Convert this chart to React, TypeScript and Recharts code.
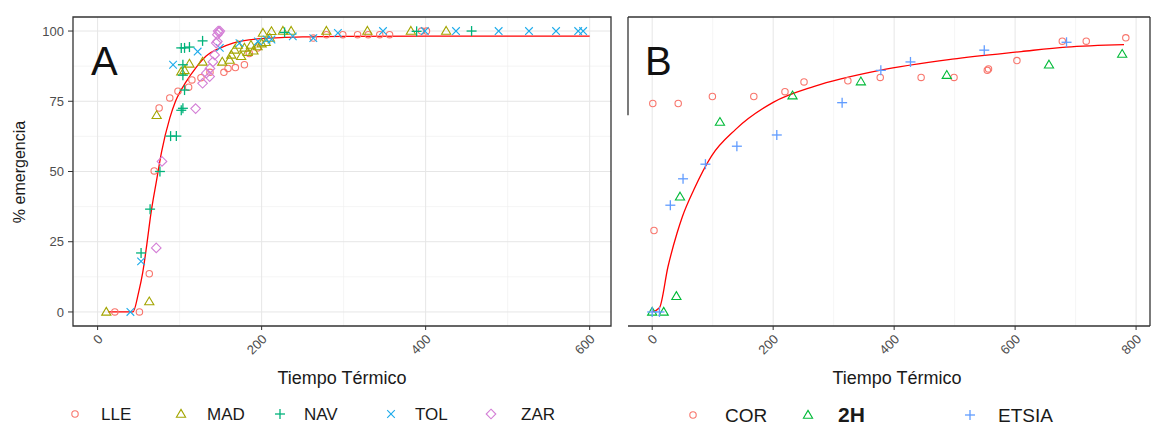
import React from "react";
import {
  CartesianGrid,
  ComposedChart,
  Line,
  ReferenceArea,
  ReferenceLine,
  Scatter,
  XAxis,
  YAxis,
} from "recharts";

type Pt = { x: number; y: number };

// Panel A: emergence by site
const LLE: Pt[] = [
  { x: 21, y: 0 }, { x: 51, y: 0 }, { x: 63, y: 13.6 }, { x: 69, y: 50.2 },
  { x: 75, y: 72.6 }, { x: 88, y: 76.2 }, { x: 98, y: 78.6 }, { x: 111, y: 80 },
  { x: 115, y: 82.6 }, { x: 126, y: 83.4 }, { x: 137, y: 85.3 }, { x: 154, y: 85.3 },
  { x: 159, y: 86.7 }, { x: 168, y: 87 }, { x: 179, y: 88 }, { x: 185, y: 92 },
  { x: 195, y: 94 }, { x: 263, y: 97.5 }, { x: 279, y: 98.7 }, { x: 299, y: 98.7 },
  { x: 317, y: 98.7 }, { x: 330, y: 98.7 }, { x: 344, y: 98.7 }, { x: 356, y: 98.7 },
  { x: 395, y: 100 }, { x: 401, y: 100 },
];
const MAD: Pt[] = [
  { x: 10.6, y: 0 }, { x: 63, y: 3.7 }, { x: 72, y: 70 }, { x: 102, y: 85.5 },
  { x: 106, y: 86 }, { x: 112, y: 88.3 }, { x: 128, y: 89 }, { x: 152, y: 89 },
  { x: 161, y: 89.7 }, { x: 163, y: 91.5 }, { x: 167, y: 93.3 }, { x: 171, y: 95 },
  { x: 175, y: 91 }, { x: 179, y: 94 }, { x: 183, y: 92.5 }, { x: 187, y: 95 },
  { x: 190, y: 93 }, { x: 195, y: 94.5 }, { x: 200, y: 95.5 }, { x: 201.6, y: 99.3 },
  { x: 205, y: 96 }, { x: 210, y: 97.5 }, { x: 212, y: 99.9 }, { x: 226, y: 100 },
  { x: 236, y: 100 }, { x: 279, y: 100 }, { x: 329, y: 100 }, { x: 382, y: 100 },
  { x: 425, y: 100 },
];
const NAV: Pt[] = [
  { x: 53, y: 21 }, { x: 64, y: 36.6 }, { x: 76, y: 50 }, { x: 89, y: 62.6 },
  { x: 96, y: 62.6 }, { x: 102, y: 71.8 }, { x: 104, y: 72.5 }, { x: 106, y: 79 },
  { x: 104, y: 84.3 }, { x: 104, y: 88 }, { x: 102, y: 94 }, { x: 106, y: 94 },
  { x: 112, y: 94.3 }, { x: 128, y: 96.5 }, { x: 228, y: 99.5 }, { x: 389, y: 99.9 },
  { x: 456, y: 100 },
];
const TOL: Pt[] = [
  { x: 40, y: 0 }, { x: 53, y: 18 }, { x: 92, y: 88 }, { x: 122, y: 92.7 },
  { x: 149, y: 94 }, { x: 173, y: 95.7 }, { x: 195.5, y: 96.3 }, { x: 206, y: 97 },
  { x: 212, y: 97 }, { x: 238, y: 98.1 }, { x: 263, y: 97.5 }, { x: 293, y: 99.3 },
  { x: 348, y: 100 }, { x: 399, y: 100 }, { x: 437, y: 100 }, { x: 489, y: 100 },
  { x: 526, y: 100 }, { x: 559, y: 100 }, { x: 586, y: 100 }, { x: 592, y: 100 },
];
const ZAR: Pt[] = [
  { x: 71.5, y: 22.8 }, { x: 78.5, y: 53.6 }, { x: 119.5, y: 72.4 }, { x: 128, y: 81.4 },
  { x: 132.5, y: 85 }, { x: 136.6, y: 83.8 }, { x: 137, y: 86.7 }, { x: 140.6, y: 89 },
  { x: 142.7, y: 91.5 }, { x: 144.7, y: 95.7 }, { x: 146, y: 96.3 }, { x: 146, y: 98.7 },
  { x: 147, y: 100 }, { x: 148, y: 99.5 }, { x: 149, y: 100 },
];
const FIT_A: Pt[] = [
  { x: 13, y: 0 }, { x: 43, y: 0 }, { x: 50, y: 7 }, { x: 55, y: 14 }, { x: 60, y: 24 },
  { x: 65, y: 35 }, { x: 72, y: 47 }, { x: 78, y: 57 }, { x: 88, y: 69 }, { x: 95, y: 75 },
  { x: 108, y: 82 }, { x: 120, y: 87 }, { x: 132, y: 91 }, { x: 150, y: 94 },
  { x: 165, y: 95.7 }, { x: 200, y: 97.3 }, { x: 250, y: 97.9 }, { x: 300, y: 98.1 },
  { x: 400, y: 98.2 }, { x: 600, y: 98.2 },
];

// Panel B
const COR: Pt[] = [
  { x: 1, y: 74.2 }, { x: 3, y: 29 }, { x: 43, y: 74.2 }, { x: 99.5, y: 76.7 },
  { x: 168, y: 76.7 }, { x: 219.5, y: 78.4 }, { x: 251, y: 81.9 }, { x: 323.5, y: 82.3 },
  { x: 377, y: 83.5 }, { x: 444.6, y: 83.5 }, { x: 499, y: 83.5 }, { x: 554, y: 86 },
  { x: 556, y: 86.5 }, { x: 603, y: 89.5 }, { x: 678, y: 96.4 }, { x: 717.6, y: 96.4 },
  { x: 783, y: 97.6 },
];
const H2: Pt[] = [
  { x: 0, y: 0 }, { x: 19, y: 0 }, { x: 40, y: 5.6 }, { x: 46, y: 41 },
  { x: 112, y: 67.6 }, { x: 232, y: 77 }, { x: 345, y: 82 }, { x: 487, y: 84.3 },
  { x: 656, y: 88 }, { x: 777, y: 91.8 },
];
const ETSIA: Pt[] = [
  { x: 0, y: 0 }, { x: 12, y: 0 }, { x: 30, y: 38 }, { x: 51, y: 47.4 },
  { x: 88, y: 52.6 }, { x: 140, y: 59 }, { x: 206, y: 63 }, { x: 314, y: 74.5 },
  { x: 378, y: 86 }, { x: 427, y: 89 }, { x: 549, y: 93.2 }, { x: 685, y: 96 },
];
const FIT_B: Pt[] = [
  { x: 0, y: 0 }, { x: 12, y: 1.5 }, { x: 26, y: 16 }, { x: 41, y: 28 }, { x: 50, y: 34 },
  { x: 69, y: 43.6 }, { x: 98, y: 55.5 }, { x: 138, y: 65 }, { x: 200, y: 74.6 },
  { x: 268, y: 80.3 }, { x: 376, y: 86 }, { x: 496, y: 90 }, { x: 610, y: 92.7 },
  { x: 684, y: 94.3 }, { x: 780, y: 95.2 },
];

const Y_TICKS = [0, 25, 50, 75, 100];
const Y_MINOR = [12.5, 37.5, 62.5, 87.5];
const XA_TICKS = [0, 200, 400, 600];
const XA_MINOR = [100, 300, 500];
const XB_TICKS = [0, 200, 400, 600, 800];
const XB_MINOR = [100, 300, 500, 700];

const FONT = "'Liberation Sans', Arial, sans-serif";
const AXIS_TXT = "#4D4D4D";

type Kind = "circle" | "triangle" | "plus" | "cross" | "diamond";

function Marker({ kind, cx, cy, color }: { kind: Kind; cx: number; cy: number; color: string }) {
  const sw = 1.1;
  if (kind === "circle") return <circle cx={cx} cy={cy} r={3.2} fill="none" stroke={color} strokeWidth={sw} />;
  if (kind === "triangle") {
    const r = 4.6;
    return (
      <polygon
        points={`${cx},${cy - r} ${cx + r},${cy + r * 0.7} ${cx - r},${cy + r * 0.7}`}
        fill="none" stroke={color} strokeWidth={sw}
      />
    );
  }
  if (kind === "plus") {
    const r = 5;
    return (
      <g stroke={color} strokeWidth={sw + 0.2}>
        <line x1={cx - r} y1={cy} x2={cx + r} y2={cy} />
        <line x1={cx} y1={cy - r} x2={cx} y2={cy + r} />
      </g>
    );
  }
  if (kind === "cross") {
    const r = 3.8;
    return (
      <g stroke={color} strokeWidth={sw}>
        <line x1={cx - r} y1={cy - r} x2={cx + r} y2={cy + r} />
        <line x1={cx - r} y1={cy + r} x2={cx + r} y2={cy - r} />
      </g>
    );
  }
  const r = 4.8;
  return (
    <polygon
      points={`${cx},${cy - r} ${cx + r},${cy} ${cx},${cy + r} ${cx - r},${cy}`}
      fill="none" stroke={color} strokeWidth={sw}
    />
  );
}

const shapeOf = (kind: Kind, color: string) => (p: any) =>
  <Marker kind={kind} cx={p.cx} cy={p.cy} color={color} />;

const XTick = (p: any) => (
  <text
    transform={`translate(${p.x + 6},${p.y + 10}) rotate(-45)`}
    textAnchor="end"
    fontSize={13}
    fontFamily={FONT}
    fill={AXIS_TXT}
  >
    {p.payload.value}
  </text>
);

const SERIES_A = [
  { name: "LLE", data: LLE, kind: "circle" as Kind, color: "#F8766D" },
  { name: "MAD", data: MAD, kind: "triangle" as Kind, color: "#A3A500" },
  { name: "NAV", data: NAV, kind: "plus" as Kind, color: "#00B27A" },
  { name: "TOL", data: TOL, kind: "cross" as Kind, color: "#1CABEB" },
  { name: "ZAR", data: ZAR, kind: "diamond" as Kind, color: "#D47FD6" },
];
const SERIES_B = [
  { name: "COR", data: COR, kind: "circle" as Kind, color: "#F8766D" },
  { name: "2H", data: H2, kind: "triangle" as Kind, color: "#00BA38" },
  { name: "ETSIA", data: ETSIA, kind: "plus" as Kind, color: "#619CFF" },
];

export default function App() {
  return (
    <div style={{ position: "absolute", left: 0, top: 0, width: 1155, height: 428, background: "#fff", fontFamily: FONT }}>
      <div style={{ position: "absolute", left: 0, top: 0 }}>
        <ComposedChart width={620} height={370} margin={{ top: 17, right: 9, bottom: 0, left: 0 }}>
          <CartesianGrid stroke="#EFEFEF" strokeWidth={0.6} horizontalValues={Y_MINOR} verticalValues={XA_MINOR} />
          <CartesianGrid stroke="#E6E6E6" strokeWidth={1} horizontalValues={Y_TICKS} verticalValues={XA_TICKS} />
          <XAxis
            type="number" dataKey="x" domain={[-30, 626]} ticks={XA_TICKS} height={44}
            axisLine={false} tickSize={4} tickMargin={0} tickLine={{ stroke: "#333" }} tick={<XTick />}
          />
          <YAxis
            type="number" dataKey="y" domain={[-5, 105]} ticks={Y_TICKS} width={73}
            axisLine={false} tickSize={5} tickMargin={4} tickLine={{ stroke: "#333" }}
            tick={{ fontSize: 13, fill: AXIS_TXT, fontFamily: FONT }}
          />
          {SERIES_A.map((s) => (
            <Scatter key={s.name} name={s.name} data={s.data} dataKey="y" shape={shapeOf(s.kind, s.color)} isAnimationActive={false} />
          ))}
          <Line data={FIT_A} dataKey="y" type="monotone" stroke="#FF0000" strokeWidth={1.3} dot={false} activeDot={false} isAnimationActive={false} />
          <ReferenceArea x1={-30} x2={626} y1={-5} y2={105} fill="none" stroke="#333" strokeWidth={1.3} fillOpacity={0} />
        </ComposedChart>
      </div>
      <div style={{ position: "absolute", left: 610, top: 0 }}>
        <ComposedChart width={545} height={370} margin={{ top: 17, right: 5, bottom: 0, left: 0 }}>
          <CartesianGrid stroke="#EFEFEF" strokeWidth={0.6} horizontalValues={Y_MINOR} verticalValues={XB_MINOR} />
          <CartesianGrid stroke="#E6E6E6" strokeWidth={1} horizontalValues={Y_TICKS} verticalValues={XB_TICKS} />
          <XAxis
            type="number" dataKey="x" domain={[-40, 823]} ticks={XB_TICKS} height={44}
            axisLine={false} tickSize={4} tickMargin={0} tickLine={{ stroke: "#333" }} tick={<XTick />}
          />
          <YAxis
            type="number" dataKey="y" domain={[-5, 105]} ticks={Y_TICKS} width={18}
            axisLine={false} tickSize={5} tickLine={{ stroke: "#333" }} tick={false}
          />
          {SERIES_B.map((s) => (
            <Scatter key={s.name} name={s.name} data={s.data} dataKey="y" shape={shapeOf(s.kind, s.color)} isAnimationActive={false} />
          ))}
          <Line data={FIT_B} dataKey="y" type="monotone" stroke="#FF0000" strokeWidth={1.3} dot={false} activeDot={false} isAnimationActive={false} />
          <ReferenceLine segment={[{ x: -40, y: 105 }, { x: 823, y: 105 }]} stroke="#333" strokeWidth={1.3} />
          <ReferenceLine segment={[{ x: 823, y: 105 }, { x: 823, y: -5 }]} stroke="#333" strokeWidth={1.3} />
          <ReferenceLine segment={[{ x: -40, y: -5 }, { x: 823, y: -5 }]} stroke="#333" strokeWidth={1.3} />
          <ReferenceLine segment={[{ x: -40, y: 105 }, { x: -40, y: 70 }]} stroke="#333" strokeWidth={1.3} />
        </ComposedChart>
      </div>
      <svg width={1155} height={428} style={{ position: "absolute", left: 0, top: 0, pointerEvents: "none" }}>
        <text x={91} y={75} fontSize={40} fontFamily={FONT} fill="#111">A</text>
        <text x={645} y={75} fontSize={40} fontFamily={FONT} fill="#111">B</text>
        <text transform="translate(25,172) rotate(-90)" textAnchor="middle" fontSize={16} fontFamily={FONT} fill="#1a1a1a">
          % emergencia
        </text>
        <text x={342} y={384} textAnchor="middle" fontSize={18} fontFamily={FONT} fill="#1a1a1a">Tiempo Térmico</text>
        <text x={897} y={384} textAnchor="middle" fontSize={18} fontFamily={FONT} fill="#1a1a1a">Tiempo Térmico</text>
        {[
          { s: SERIES_A[0], ix: 75, tx: 101 },
          { s: SERIES_A[1], ix: 181, tx: 207 },
          { s: SERIES_A[2], ix: 280, tx: 304 },
          { s: SERIES_A[3], ix: 391, tx: 415 },
          { s: SERIES_A[4], ix: 491, tx: 521 },
        ].map(({ s, ix, tx }) => (
          <g key={s.name}>
            <Marker kind={s.kind} cx={ix} cy={414} color={s.color} />
            <text x={tx} y={420} fontSize={17} fontFamily={FONT} fill="#1a1a1a">{s.name}</text>
          </g>
        ))}
        {[
          { s: SERIES_B[0], ix: 693, tx: 725, bold: false },
          { s: SERIES_B[1], ix: 808, tx: 838, bold: true },
          { s: SERIES_B[2], ix: 970, tx: 998, bold: false },
        ].map(({ s, ix, tx, bold }) => (
          <g key={s.name}>
            <Marker kind={s.kind} cx={ix} cy={415} color={s.color} />
            <text x={tx} y={422} fontSize={bold ? 21 : 19} fontWeight={bold ? "bold" : "normal"} fontFamily={FONT} fill="#1a1a1a">
              {s.name}
            </text>
          </g>
        ))}
      </svg>
    </div>
  );
}
